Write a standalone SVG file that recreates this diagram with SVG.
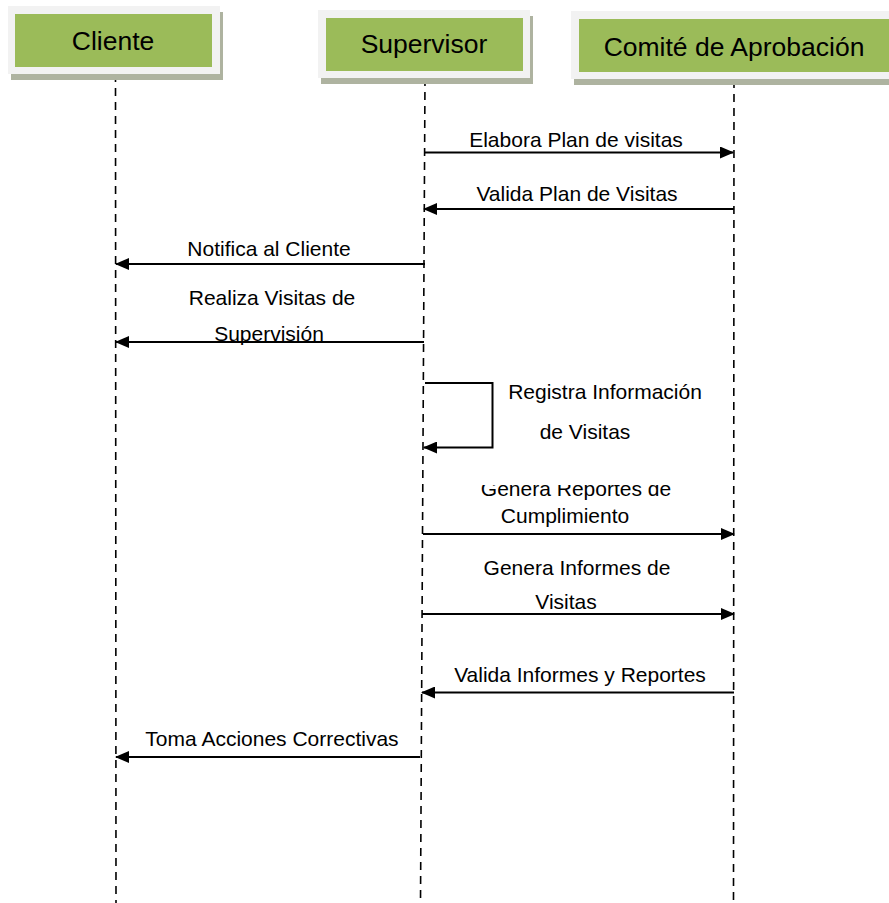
<svg xmlns="http://www.w3.org/2000/svg" width="889" height="903" viewBox="0 0 889 903">
<style>
.shadow{fill:#aeb3a0}
.frame{fill:#f2f2f2}
.head{fill:#9bbb59}
.ht{font-family:"Liberation Sans",Arial,sans-serif;font-size:26.5px;fill:#000;text-anchor:middle}
.lt{font-family:"Liberation Sans",Arial,sans-serif;font-size:21px;fill:#000;text-anchor:middle}
.life{stroke:#000;stroke-width:1.6;stroke-dasharray:8 6;fill:none}
.msg{stroke:#000;stroke-width:2;fill:none}
</style>
<defs>
<marker id="ah" markerWidth="14" markerHeight="12" refX="13" refY="6" orient="auto" markerUnits="userSpaceOnUse">
<path d="M0,0 L14,6 L0,12 Z" fill="#000"/>
</marker>
<clipPath id="clipRep"><rect x="400" y="485" width="350" height="60"/></clipPath>
</defs>
<rect width="889" height="903" fill="#fff"/>
<g id="lifelines">
<line class="life" x1="115.5" y1="74" x2="116" y2="903"/>
<line class="life" x1="425" y1="78" x2="420.5" y2="903"/>
<line class="life" x1="734" y1="80" x2="733.5" y2="903"/>
</g>
<g id="cliente">
<rect class="shadow" x="11" y="12" width="212" height="68"/>
<rect class="frame" x="8" y="6" width="212" height="68"/>
<rect class="head" x="15" y="14" width="197" height="53"/>
<text class="ht" x="113" y="50">Cliente</text>
</g>
<g id="supervisor">
<rect class="shadow" x="321" y="16" width="212" height="68"/>
<rect class="frame" x="318" y="10" width="212" height="68"/>
<rect class="head" x="326" y="18" width="197" height="53"/>
<text class="ht" x="424" y="53">Supervisor</text>
</g>
<g id="comite">
<rect class="shadow" x="574" y="17" width="330" height="68"/>
<rect class="frame" x="571" y="11" width="330" height="68"/>
<rect class="head" x="579" y="19" width="320" height="53"/>
<text class="ht" x="734" y="56">Comité de Aprobación</text>
</g>
<g id="connectors">
<line class="msg" x1="425" y1="152.5" x2="733" y2="152.5" marker-end="url(#ah)"/>
<line class="msg" x1="734" y1="209" x2="424" y2="209" marker-end="url(#ah)"/>
<line class="msg" x1="425" y1="264" x2="116" y2="264" marker-end="url(#ah)"/>
<line class="msg" x1="424" y1="342" x2="116" y2="342" marker-end="url(#ah)"/>
<polyline class="msg" points="425,383 492.5,383 492.5,447.5 424,447.5" marker-end="url(#ah)"/>
<line class="msg" x1="423" y1="534" x2="734" y2="534" marker-end="url(#ah)"/>
<line class="msg" x1="422" y1="614" x2="734" y2="614" marker-end="url(#ah)"/>
<line class="msg" x1="734" y1="692.5" x2="422" y2="692.5" marker-end="url(#ah)"/>
<line class="msg" x1="420" y1="757" x2="116" y2="757" marker-end="url(#ah)"/>
</g>
<g id="labels">
<text class="lt" x="576" y="147">Elabora Plan de visitas</text>
<text class="lt" x="577" y="201">Valida Plan de Visitas</text>
<text class="lt" x="269" y="256">Notifica al Cliente</text>
<text class="lt" x="272" y="305">Realiza Visitas de</text>
<text class="lt" x="269" y="341">Supervisión</text>
<text class="lt" x="605" y="399">Registra Información</text>
<text class="lt" x="585" y="439">de Visitas</text>
<g clip-path="url(#clipRep)"><text class="lt" x="576" y="496">Genera Reportes de</text></g>
<text class="lt" x="565" y="523">Cumplimiento</text>
<text class="lt" x="577" y="575">Genera Informes de</text>
<text class="lt" x="566" y="609">Visitas</text>
<text class="lt" x="580" y="682">Valida Informes y Reportes</text>
<text class="lt" x="272" y="746">Toma Acciones Correctivas</text>
</g>
</svg>
